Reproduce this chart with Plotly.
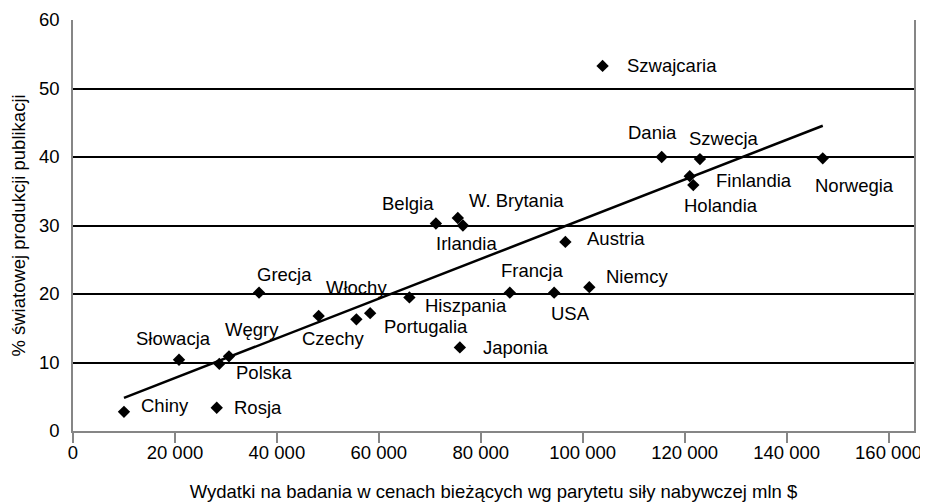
import numpy as np
import plotly.graph_objects as go

countries = ["Chiny", "Rosja", "Słowacja", "Polska", "Węgry", "Grecja", "Czechy",
             "Włochy", "Portugalia", "Hiszpania", "Japonia", "Belgia", "W. Brytania",
             "Irlandia", "Austria", "Francja", "USA", "Niemcy", "Szwajcaria", "Dania",
             "Szwecja", "Finlandia", "Holandia", "Norwegia"]
spending = [10000, 28200, 20800, 28700, 30600, 36500, 48200,
            55600, 58300, 66000, 75900, 71200, 75500,
            76500, 96600, 85700, 94400, 101300, 103900, 115500,
            123000, 121000, 121700, 147100]
share = [2.8, 3.4, 10.4, 9.8, 10.9, 20.2, 16.8,
         16.3, 17.2, 19.5, 12.2, 30.3, 31.1,
         30.0, 27.6, 20.2, 20.2, 21.0, 53.3, 40.0,
         39.7, 37.2, 35.9, 39.8]

x_ticks = [0, 20000, 40000, 60000, 80000, 100000, 120000, 140000, 160000]
x_tick_labels = ["0", "20 000", "40 000", "60 000", "80 000", "100 000",
                 "120 000", "140 000", "160 000"]
y_ticks = [0, 10, 20, 30, 40, 50, 60]

# label placement (pixel offsets from marker, anchor)
label_pos = {
    "Chiny": (15, 6, "left"), "Rosja": (15, 0, "left"), "Słowacja": (-6, 21, "center"),
    "Polska": (15, -9, "left"), "Węgry": (23, 27, "center"), "Grecja": (25, 18, "center"),
    "Czechy": (14, -23, "center"), "Włochy": (0, 32, "center"),
    "Portugalia": (12, -13, "left"), "Hiszpania": (14, -8, "left"),
    "Japonia": (21, 0, "left"), "Belgia": (-28, 20, "center"),
    "W. Brytania": (9, 17, "left"), "Irlandia": (4, -18, "center"),
    "Austria": (20, 3, "left"), "Francja": (22, 22, "center"),
    "USA": (16, -21, "center"), "Niemcy": (15, 11, "left"),
    "Szwajcaria": (22, 0, "left"), "Dania": (-9, 25, "center"),
    "Szwecja": (24, 21, "center"), "Finlandia": (24, -4, "left"),
    "Holandia": (28, -20, "center"), "Norwegia": (32, -27, "center"),
}

FONT = "Arial, Liberation Sans, sans-serif"
FS = 18.5

xs = np.array(spending, dtype=float)
ys = np.array(share, dtype=float)
slope, intercept = np.polyfit(xs, ys, 1)
trend_x = [xs.min(), xs.max()]
trend_y = [slope * v + intercept for v in trend_x]

fig = go.Figure()
fig.add_trace(go.Scatter(x=trend_x, y=trend_y, mode="lines",
                         line=dict(color="black", width=2.5), hoverinfo="skip"))
fig.add_trace(go.Scatter(x=spending, y=share, mode="markers", text=countries,
                         marker=dict(symbol="diamond", size=9.5, color="black")))

for c, xv, yv in zip(countries, spending, share):
    dx, dy, anchor = label_pos[c]
    fig.add_annotation(x=xv, y=yv, xref="x", yref="y", text=c, showarrow=False,
                       xshift=dx, yshift=dy, xanchor=anchor, yanchor="middle",
                       font=dict(family=FONT, size=FS, color="#000000"))

# page body has an 8px margin, so the figure is offset by (8, 8)
fig.update_layout(
    width=920, height=495,
    margin=dict(l=65, r=14, t=11.5, b=72, autoexpand=False),
    paper_bgcolor="white", plot_bgcolor="white",
    showlegend=False,
    font=dict(family=FONT, size=FS, color="#000000"),
)
fig.update_xaxes(range=[0, 165000], tickvals=x_ticks, ticktext=x_tick_labels,
                 automargin=False,
                 showgrid=False, zeroline=False, showline=True, linecolor="#868686",
                 linewidth=1.5, ticks="outside", ticklen=10, tickcolor="#868686",
                 tickwidth=1.5, ticklabelstandoff=-6,
                 title=dict(text="Wydatki na badania w cenach bieżących wg parytetu siły nabywczej mln $",
                            font=dict(size=FS), standoff=23))
fig.update_yaxes(range=[0, 60], tickvals=y_ticks, showgrid=True, gridcolor="#000000",
                 automargin=False,
                 gridwidth=1.5, zeroline=False, showline=True, linecolor="#868686",
                 linewidth=1.5, mirror=True, ticks="", ticklabelstandoff=8,
                 title=dict(text="% światowej produkcji publikacji", font=dict(size=FS),
                            standoff=12))

fig.write_html("out.html")
